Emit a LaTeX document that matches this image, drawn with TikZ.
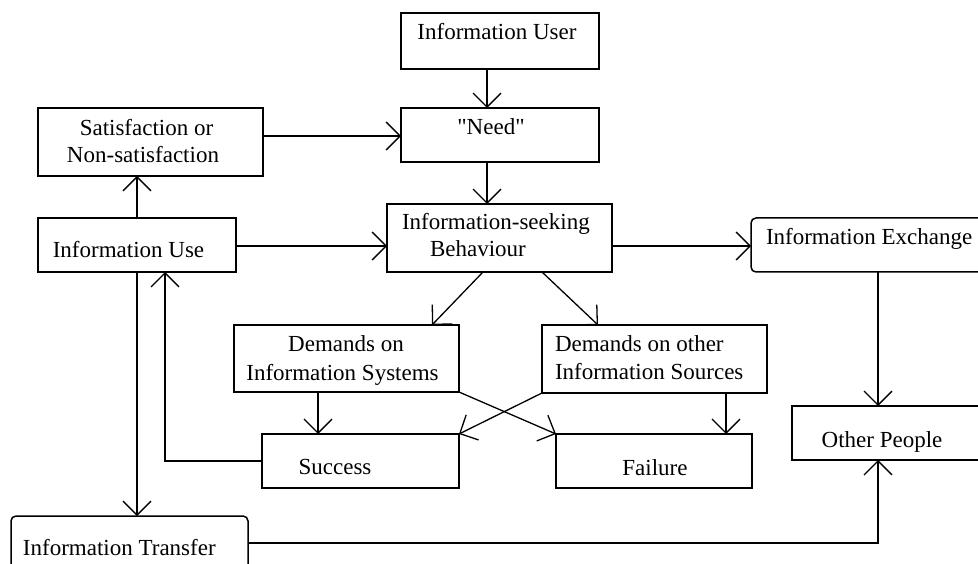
\documentclass[tikz,border=0pt]{standalone}
\usepackage{fontspec}
\setmainfont{Liberation Serif}
\usetikzlibrary{arrows.meta}
\tikzset{
  box/.style={draw, line width=1.5pt, inner sep=0pt, outer sep=0pt},
  rbox/.style={box, rounded corners=5pt},
  txt/.style={anchor=base, inner sep=0pt, outer sep=0pt, font=\fontsize{23}{27}\selectfont},
  txtl/.style={txt, anchor=base west},
  arr/.style={line width=1.3pt, -{Straight Barb[length=14pt,width=28pt]}}
}
\begin{document}
\begin{tikzpicture}[x=1pt,y=-1pt]
\useasboundingbox (0,0) rectangle (978,564);
\clip (0,0) rectangle (978,564);
\fill[white] (0,0) rectangle (978,564);
% boxes
\node[box, minimum width=198pt, minimum height=56pt] (user) at (500,41) {};
\node[box, minimum width=198pt, minimum height=54pt] (need) at (500,135) {};
\node[box, minimum width=225pt, minimum height=68pt] (sat) at (150.5,142) {};
\node[box, minimum width=198pt, minimum height=54pt] (use) at (137,245) {};
\node[box, minimum width=225pt, minimum height=68pt] (seek) at (499.5,238) {};
\node[rbox, minimum width=239pt, minimum height=54pt] (exch) at (870.5,245) {};
\node[box, minimum width=225pt, minimum height=67pt] (dsys) at (346.5,358.5) {};
\node[box, minimum width=225pt, minimum height=68pt] (dother) at (654.5,359) {};
\node[box, minimum width=197pt, minimum height=54pt] (succ) at (360.5,461) {};
\node[box, minimum width=196pt, minimum height=54pt] (fail) at (654,461) {};
\node[box, minimum width=198pt, minimum height=54pt] (other) at (891,433) {};
\node[rbox, minimum width=237pt, minimum height=64pt] (trans) at (129.5,548) {};
% texts
\node[txt] (t1) at (497,40) {Information User};
\node[txt] (t2) at (491,135) {\textquotedbl Need\textquotedbl};
\node[txt] (t3a) at (146.5,136) {Satisfaction or};
\node[txt] (t3b) at (143,163) {Non-satisfaction};
\node[txt] (t4) at (128.5,258) {Information Use};
\node[txtl] (t5a) at (402,230) {Information-seeking};
\node[txtl] (t5b) at (430,257) {Behaviour};
\node[txtl] (t6) at (766,245) {Information Exchange};
\node[txtl] (t7a) at (555,352) {Demands on other};
\node[txtl] (t7b) at (555,379) {Information Sources};
\node[txt] (t8a) at (346,352) {Demands on};
\node[txt] (t8b) at (342.5,380) {Information Systems};
\node[txt] (t9) at (335,474) {Success};
\node[txt] (t10) at (655,475) {Failure};
\node[txt] (t11) at (882,447) {Other People};
\node[txtl] (t12) at (23,555) {Information Transfer};
% connectors
\draw[arr] ([xshift=-13pt]user.south) -- ([xshift=-13pt]need.north);
\draw[arr] ([xshift=-13pt]need.south) -- ([xshift=-12.5pt]seek.north);
\draw[arr] ([yshift=6pt]sat.east) -- ([yshift=6pt]sat.east -| need.west);
\draw[arr] ([yshift=-1pt]use.east) -- ([yshift=-1pt]use.east -| seek.west);
\draw[arr] (use.north) -- (use.north |- sat.south);
\draw[arr] ([yshift=-8pt]seek.east) -- ([yshift=-8pt]seek.east -| exch.west);
\draw[arr] ([xshift=7.5pt]exch.south) -- ([xshift=7.5pt]exch.south |- other.north);
\draw[arr] ([xshift=-16.5pt]seek.south) -- ([xshift=85.5pt]dsys.north);
\draw[arr] ([xshift=42.5pt]seek.south) -- ([xshift=-56.5pt]dother.north);
\draw[arr] ([xshift=-28.5pt]dsys.south) -- ([xshift=-28.5pt]dsys.south |- succ.north);
\draw[arr] ([xshift=71.5pt]dother.south) -- ([xshift=71.5pt]dother.south |- fail.north);
\draw[arr] (dsys.south east) -- (fail.north west);
\draw[arr] (dother.south west) -- (succ.north east);
\draw[arr] (succ.west) -| ([xshift=28pt]use.south);
\draw[arr] (use.south) -- (use.south |- trans.north);
\draw[arr] ([yshift=5pt]trans.east) -| ([xshift=-13pt]other.south);
\end{tikzpicture}
\end{document}
